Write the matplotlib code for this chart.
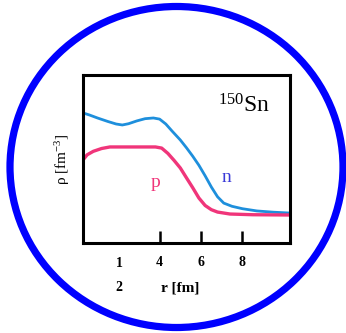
import matplotlib.pyplot as plt
from matplotlib.patches import Ellipse

# densidades de neutrons e protons do 150Sn
r_n = [0.3, 0.6, 1.0, 1.5, 1.9, 2.2, 2.5, 2.9, 3.3, 3.7, 4.0, 4.3, 4.6, 5.0, 5.3,
       5.6, 5.9, 6.2, 6.5, 6.8, 7.1, 7.5, 8.0, 8.7, 9.5, 10.3]
rho_n = [0.0929, 0.0915, 0.0893, 0.0868, 0.0850, 0.0843, 0.0852, 0.0872, 0.0888,
         0.0893, 0.0885, 0.0850, 0.0800, 0.0736, 0.0680, 0.0620, 0.0555, 0.0480,
         0.0400, 0.0330, 0.0285, 0.0262, 0.0245, 0.0229, 0.0220, 0.0214]
r_p = [0.3, 0.5, 0.8, 1.2, 1.6, 3.8, 4.1, 4.4, 4.7, 5.0, 5.3, 5.6, 5.9, 6.2, 6.5,
       6.8, 7.4, 8.5, 10.3]
rho_p = [0.0593, 0.0630, 0.0655, 0.0675, 0.0686, 0.0686, 0.0678, 0.0640, 0.0590,
         0.0536, 0.0465, 0.0395, 0.0321, 0.0268, 0.0238, 0.0221, 0.0207, 0.0202,
         0.0200]
xticks = [4, 6, 8]
xticklabels = ["4", "6", "8"]

serif = "Liberation Serif"
plt.rcParams["mathtext.fontset"] = "custom"
plt.rcParams["mathtext.rm"] = serif
plt.rcParams["mathtext.it"] = serif + ":italic"

fig = plt.figure(figsize=(3.46, 3.33), dpi=100)
fig.patches.append(Ellipse((176.5 / 346, 1 - 167 / 333), 333 / 346, 321 / 333,
                           transform=fig.transFigure, fill=False,
                           edgecolor="#0000ff", linewidth=5.2))

ax = fig.add_axes([83 / 346, 90 / 333, 207 / 346, 168 / 333])
ax.plot(r_n, rho_n, color="#1e8fdc", linewidth=2)
ax.plot(r_p, rho_p, color="#f0357a", linewidth=2.4)
ax.set_xlim(0.3, 10.3)
ax.set_ylim(0, 0.12)

for s in ax.spines.values():
    s.set_linewidth(2.2)
ax.set_yticks([])
ax.set_xticks(xticks)
ax.set_xticklabels(xticklabels, fontfamily=serif, fontsize=10, fontweight="bold")
ax.tick_params(axis="x", direction="in", length=9, width=1.8, pad=9)

ax.text(2.05, -0.0143, "1", ha="center", va="center", fontfamily=serif,
        fontsize=10, fontweight="bold")
ax.text(2.05, -0.032, "2", ha="center", va="center", fontfamily=serif,
        fontsize=10, fontweight="bold")
ax.text(5.0, -0.032, "r [fm]", ha="center", va="center", fontfamily=serif,
        fontsize=11, fontweight="bold")
ax.text(-0.7, 0.06, "ρ [fm$^{-3}$]", rotation=90, ha="center", va="center",
        fontfamily=serif, fontsize=11)

ax.text(8.1, 0.098, r"$^{150}$Sn", ha="center", va="center", fontfamily=serif,
        fontsize=17)
ax.text(3.8, 0.043, "p", color="#f0357a", ha="center", va="center",
        fontfamily=serif, fontsize=14)
ax.text(7.25, 0.047, "n", color="#3a3ad8", ha="center", va="center",
        fontfamily=serif, fontsize=14)

plt.savefig("out.png", dpi=100)
